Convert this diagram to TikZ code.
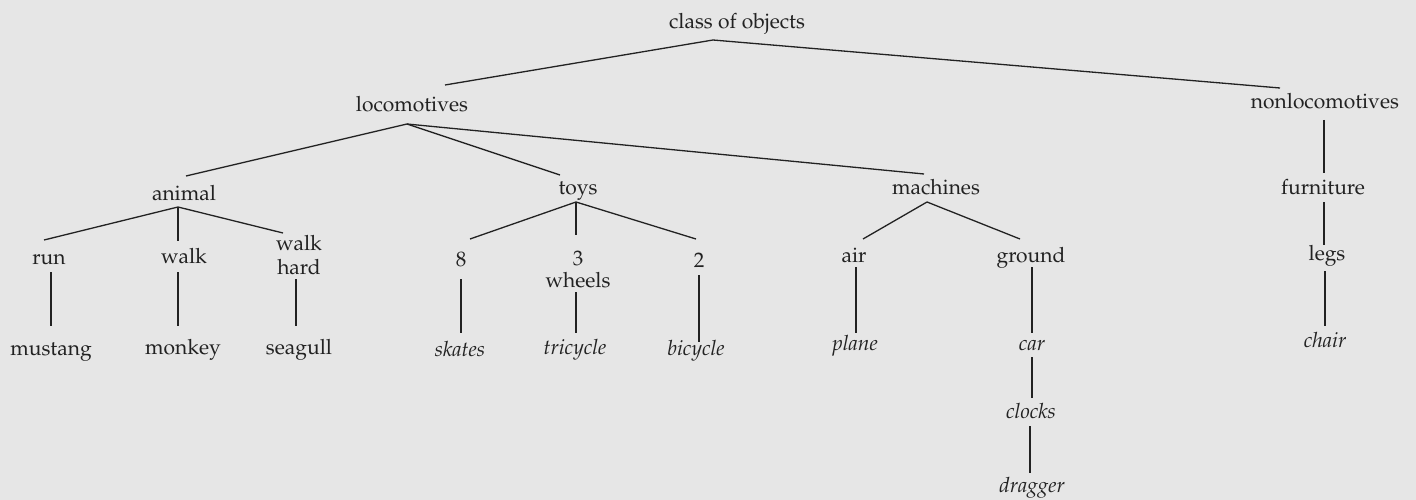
\documentclass[tikz,border=0pt]{standalone}
\usepackage[T1]{fontenc}
\renewcommand{\rmdefault}{ppl}
\definecolor{bgc}{HTML}{E6E6E6}
\definecolor{ink}{HTML}{222222}
\tikzset{
  lbl/.style={inner sep=0pt, text=ink, font=\fontsize{21}{24}\selectfont, text height=15pt, text depth=1pt, align=center},
  twoline/.style={inner sep=0pt, text=ink, align=center},
  itl/.style={lbl, font=\fontsize{21}{24}\selectfont\itshape},
  edge/.style={draw=ink, line width=1.3pt}
}
\begin{document}
\begin{tikzpicture}[x=1pt,y=-1pt]
\fill[bgc] (0,0) rectangle (1416,500);
\useasboundingbox (0,0) rectangle (1416,500);
% nodes
\node[lbl] (top) at (737,22) {class of objects};
\node[lbl] (loco) at (412,105) {locomotives};
\node[lbl] (nonloc) at (1325,102) {nonlocomotives};
\node[lbl] (animal) at (184,193) {animal};
\node[lbl] (toys) at (578,187) {toys};
\node[lbl] (machines) at (936,187) {machines};
\node[lbl] (furniture) at (1323,187) {furniture};
\node[lbl] (run) at (49,257) {run};
\node[lbl] (walk) at (184,256) {walk};
\node[twoline, font=\fontsize{21}{24}\selectfont] (walkhard) at (299,255) {walk\\hard};
\node[lbl] (eight) at (461,259) {8};
\node[twoline, font=\fontsize{21}{22}\selectfont] (wheels) at (578,269) {3\\wheels};
\node[lbl] (two) at (699,260) {2};
\node[lbl] (air) at (854,255) {air};
\node[lbl] (ground) at (1031,255) {ground};
\node[lbl] (legs) at (1327,253) {legs};
\node[lbl] (mustang) at (51,348) {mustang};
\node[lbl] (monkey) at (183,347) {monkey};
\node[lbl] (seagull) at (299,347) {seagull};
\node[itl] (skates) at (460,349) {skates};
\node[itl] (tricycle) at (575,347) {tricycle};
\node[itl] (bicycle) at (696,348) {bicycle};
\node[itl] (plane) at (855,343) {plane};
\node[itl] (car) at (1032,343) {car};
\node[itl] (chair) at (1325,340) {chair};
\node[itl] (clocks) at (1031,411) {clocks};
\node[itl] (dragger) at (1032,485) {dragger};
% connection points
\coordinate (top-o) at (713,40);
\coordinate (loco-i) at (445,85);
\coordinate (nonloc-i) at (1280,88);
\coordinate (loco-o) at (407,124);
\coordinate (animal-i) at (186,176);
\coordinate (toys-i) at (560,175);
\coordinate (machines-i) at (924,174);
\coordinate (animal-o) at (178,207);
\coordinate (run-i) at (44,240);
\coordinate (walk-i) at (178,241);
\coordinate (walkhard-i) at (283,233);
\coordinate (toys-o) at (576,202);
\coordinate (eight-i) at (470,239);
\coordinate (wheels-i) at (576,235);
\coordinate (two-i) at (696,239);
\coordinate (machines-o) at (927,202);
\coordinate (air-i) at (863,239);
\coordinate (ground-i) at (1020,239);
% tree edges
\draw[edge] (top-o) -- (loco-i);
\draw[edge] (top-o) -- (nonloc-i);
\draw[edge] (loco-o) -- (animal-i);
\draw[edge] (loco-o) -- (toys-i);
\draw[edge] (loco-o) -- (machines-i);
\draw[edge] (animal-o) -- (run-i);
\draw[edge] (animal-o) -- (walk-i);
\draw[edge] (animal-o) -- (walkhard-i);
\draw[edge] (toys-o) -- (eight-i);
\draw[edge] (toys-o) -- (wheels-i);
\draw[edge] (toys-o) -- (two-i);
\draw[edge] (machines-o) -- (air-i);
\draw[edge] (machines-o) -- (ground-i);
% vertical edges
\draw[edge] (1324,120) coordinate (nonloc-o) -- (1324,173) coordinate (furniture-i);
\draw[edge] (1324,202) coordinate (furniture-o) -- (1324,245) coordinate (legs-i);
\draw[edge] (1325,271) coordinate (legs-o) -- (1325,326) coordinate (chair-i);
\draw[edge] (51,272) coordinate (run-o) -- (51,326) coordinate (mustang-i);
\draw[edge] (178,272) coordinate (walk-o) -- (178,326) coordinate (monkey-i);
\draw[edge] (296,279) coordinate (walkhard-o) -- (296,326) coordinate (seagull-i);
\draw[edge] (461,279) coordinate (eight-o) -- (461,333) coordinate (skates-i);
\draw[edge] (576,292) coordinate (wheels-o) -- (576,333) coordinate (tricycle-i);
\draw[edge] (699,275) coordinate (two-o) -- (699,342) coordinate (bicycle-i);
\draw[edge] (856,267) coordinate (air-o) -- (856,333) coordinate (plane-i);
\draw[edge] (1032,267) coordinate (ground-o) -- (1032,333) coordinate (car-i);
\draw[edge] (1032,357) coordinate (car-o) -- (1032,398) coordinate (clocks-i);
\draw[edge] (1030,426) coordinate (clocks-o) -- (1030,473) coordinate (dragger-i);
\end{tikzpicture}
\end{document}
